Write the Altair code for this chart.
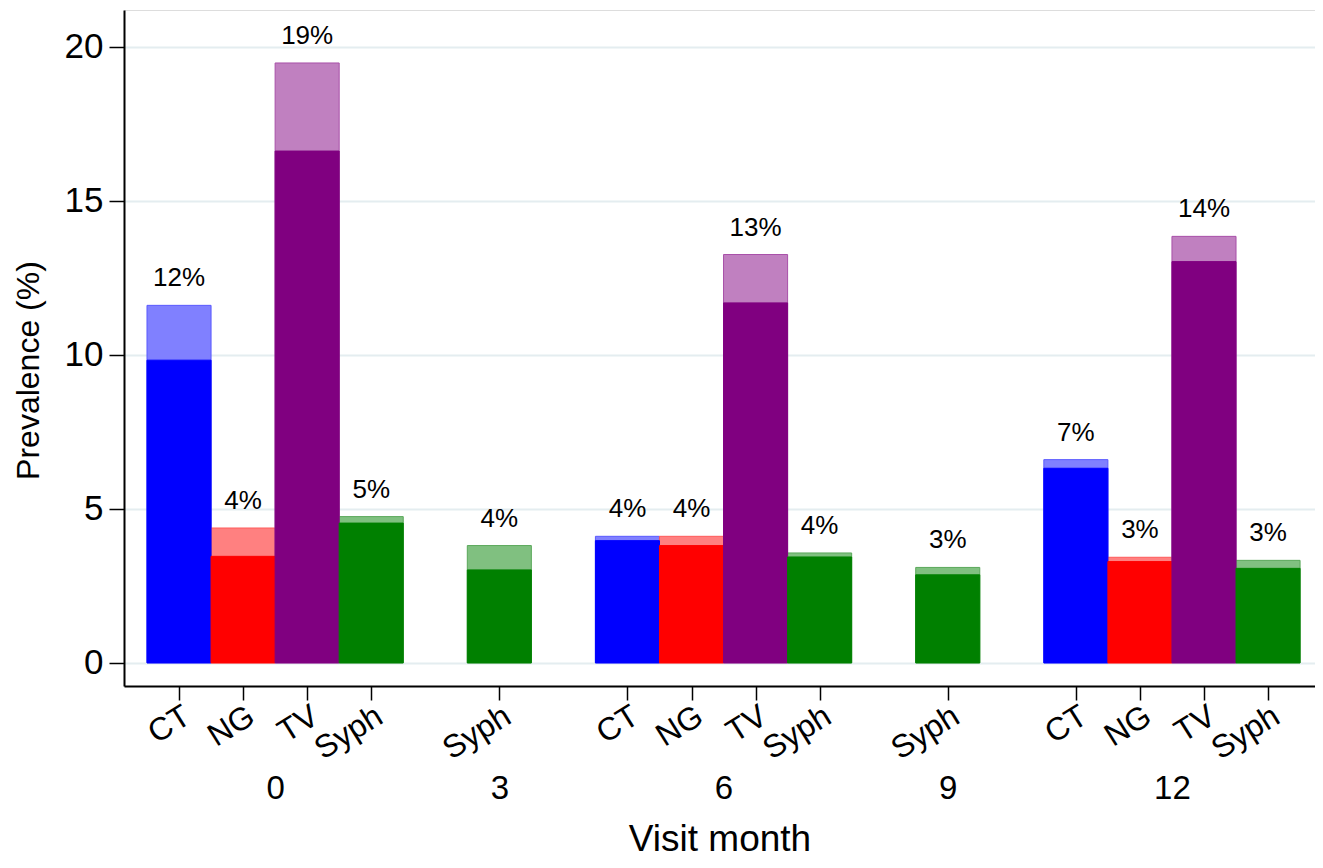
import json
import altair as alt
import pandas as pd

# ---- data ----
months = ["0", "0", "0", "0", "3", "6", "6", "6", "6", "9", "12", "12", "12", "12"]
infections = ["CT", "NG", "TV", "Syph", "Syph", "CT", "NG", "TV", "Syph", "Syph",
              "CT", "NG", "TV", "Syph"]
dark_vals = [9.83, 3.46, 16.62, 4.54, 3.02, 3.97, 3.81, 11.69, 3.44, 2.86,
             6.32, 3.29, 13.03, 3.07]
total_vals = [11.61, 4.38, 19.48, 4.75, 3.81, 4.11, 4.11, 13.26, 3.57, 3.10,
              6.60, 3.43, 13.85, 3.33]
pct_labels = ["12%", "4%", "19%", "5%", "4%", "4%", "4%", "13%", "4%", "3%",
              "7%", "3%", "14%", "3%"]
month_order = ["0", "3", "6", "9", "12"]
infection_names = ["CT", "NG", "TV", "Syph"]
y_ticks = [0, 5, 10, 15, 20]

# ---- styles ----
dark_colors = ["#0000ff", "#ff0000", "#800080", "#008000"]
light_colors = ["#8080ff", "#ff8080", "#c080c0", "#80c080"]
edge_light = ["#5a5aff", "#ff5a5a", "#a850a8", "#5aa85a"]
FONT = "Arial, Liberation Sans, sans-serif"

# slot layout: bars adjacent inside a month, one empty slot between months
slots = []
cur, prev = 0, None
for m in months:
    if prev is not None and m != prev:
        cur += 1
    slots.append(cur)
    cur += 1
    prev = m
n_slots = cur

df = pd.DataFrame({
    "month": months,
    "infection": infections,
    "start": slots,
    "end": [s + 1 for s in slots],
    "center": [s + 0.5 for s in slots],
    "dark": dark_vals,
    "total": total_vals,
    "label": pct_labels,
})

gdf = df.groupby("month", sort=False)["center"].mean().reset_index()

cat_names = [""] * (n_slots + 1)
for s, n in zip(slots, infections):
    cat_names[s] = n
month_names = [""] * (n_slots + 1)
for m, c in zip(gdf["month"], gdf["center"]):
    month_names[int(c)] = m

W, H = 1191, 676
x_dom = [-0.359, -0.359 + W / 64.06]
y_dom = [-0.75, 21.2]

xscale = alt.Scale(domain=x_dom, nice=False, zero=False)
yscale = alt.Scale(domain=y_dom, nice=False, zero=False)

cat_axis = alt.Axis(
    orient="bottom", values=[s + 0.5 for s in slots],
    labelExpr=json.dumps(cat_names) + "[floor(datum.value)]",
    labelAngle=-32, labelAlign="right", labelBaseline="top",
    labelFontSize=32, labelPadding=0, labelOverlap=False, labelFlush=False,
    labelColor="black", labelFont=FONT,
    tickSize=14, tickColor="black", tickWidth=1.5,
    domainColor="black", domainWidth=2, grid=False, title=None,
)
y_axis = alt.Axis(
    values=y_ticks, labelFontSize=35, labelPadding=6, labelColor="black",
    labelFont=FONT, tickSize=15, tickColor="black", tickWidth=1.5,
    domainColor="black", domainWidth=2,
    grid=True, gridColor="#e4edf0", gridWidth=2,
    title="Prevalence (%)", titleFontSize=32, titleFontWeight="normal",
    titleFont=FONT, titleColor="black", titleAngle=-90,
    titleBaseline="alphabetic", titleAlign="center", titleX=-86, titleY=360,
)

color_domain = [n + "_light" for n in infection_names] + [n + "_dark" for n in infection_names]
fill_scale = alt.Scale(domain=color_domain, range=light_colors + dark_colors)
stroke_scale = alt.Scale(domain=color_domain, range=edge_light + dark_colors)

base = alt.Chart(df)

light = base.transform_calculate(key="datum.infection + '_light'").mark_bar(
    strokeWidth=1
).encode(
    x=alt.X("start:Q", scale=xscale, axis=cat_axis),
    x2="end:Q",
    y=alt.Y("total:Q", scale=yscale, axis=y_axis),
    y2=alt.datum(0),
    color=alt.Color("key:N", scale=fill_scale, legend=None),
    stroke=alt.Stroke("key:N", scale=stroke_scale, legend=None),
)

dark = base.transform_calculate(key="datum.infection + '_dark'").mark_bar(
    strokeWidth=1
).encode(
    x=alt.X("start:Q", scale=xscale, axis=cat_axis),
    x2="end:Q",
    y=alt.Y("dark:Q", scale=yscale, axis=y_axis),
    y2=alt.datum(0),
    color=alt.Color("key:N", scale=fill_scale, legend=None),
    stroke=alt.Stroke("key:N", scale=stroke_scale, legend=None),
)

text = base.mark_text(
    dy=-19, baseline="alphabetic", align="center", fontSize=26, font=FONT, color="black"
).encode(
    x=alt.X("center:Q", scale=xscale, axis=cat_axis),
    y=alt.Y("total:Q", scale=yscale, axis=y_axis),
    text="label:N",
)

bars = alt.layer(light, dark, text)

month_axis = alt.Axis(
    orient="bottom", values=list(gdf["center"]),
    labelExpr=json.dumps(month_names) + "[floor(datum.value)]",
    labelAngle=0, labelAlign="center", labelBaseline="middle",
    labelFontSize=33, labelPadding=102, labelColor="black", labelFont=FONT,
    labelOverlap=False, labelFlush=False,
    domain=False, ticks=False, grid=False,
    title="Visit month", titleFontSize=37, titleFontWeight="normal",
    titleFont=FONT, titleColor="black", titleBaseline="alphabetic",
    titleY=164,
)

month_layer = alt.Chart(gdf).mark_point(opacity=0).encode(
    x=alt.X("center:Q", scale=xscale, axis=month_axis),
)

chart = alt.layer(bars, month_layer).resolve_scale(x="independent").properties(
    width=W, height=H,
    autosize=alt.AutoSizeParams(type="none"),
    padding={"left": 116, "top": 2, "right": 0, "bottom": 174},
).configure_view(stroke=None).configure(background="white")

chart.save("out.html", embed_options={"renderer": "svg", "actions": False})
